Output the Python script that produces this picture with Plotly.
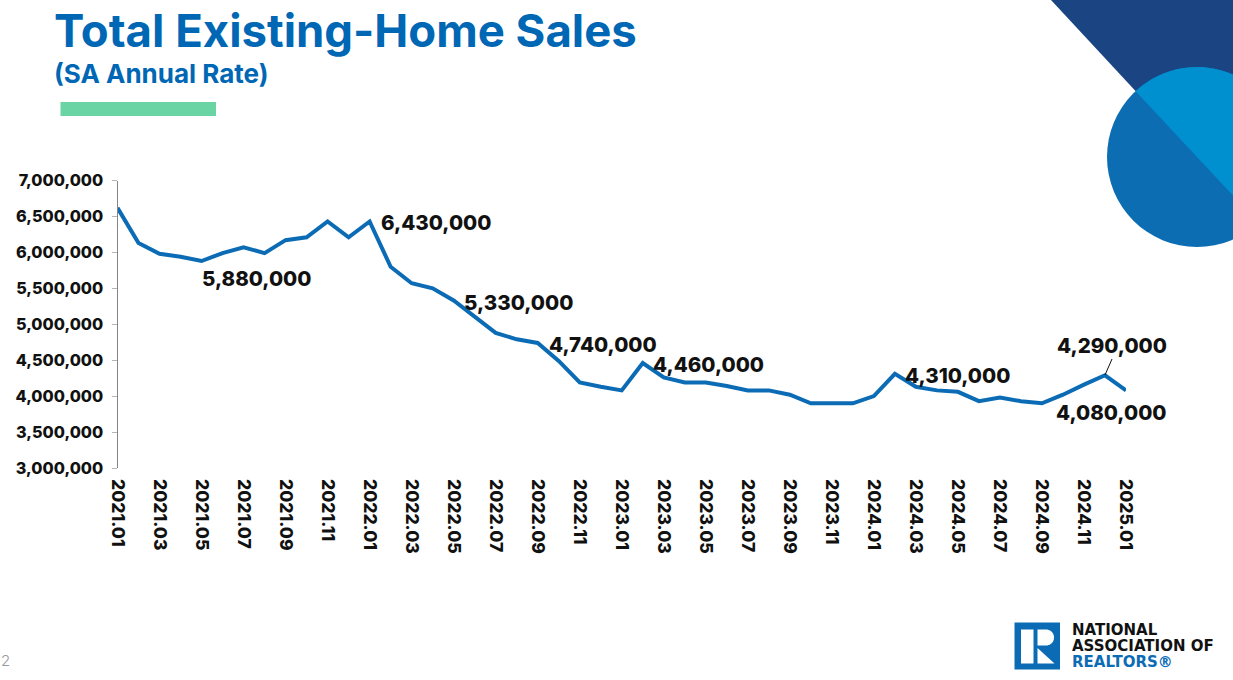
import math
import plotly.graph_objects as go

W, H = 1233, 680

# monthly, 2021.01 - 2025.01
months = [
    "2021.01", "2021.02", "2021.03", "2021.04", "2021.05", "2021.06", "2021.07", "2021.08", "2021.09", "2021.10", "2021.11", "2021.12",
    "2022.01", "2022.02", "2022.03", "2022.04", "2022.05", "2022.06", "2022.07", "2022.08", "2022.09", "2022.10", "2022.11", "2022.12",
    "2023.01", "2023.02", "2023.03", "2023.04", "2023.05", "2023.06", "2023.07", "2023.08", "2023.09", "2023.10", "2023.11", "2023.12",
    "2024.01", "2024.02", "2024.03", "2024.04", "2024.05", "2024.06", "2024.07", "2024.08", "2024.09", "2024.10", "2024.11", "2024.12",
    "2025.01",
]
sales = [
    6620000, 6130000, 5980000, 5940000, 5880000, 5990000, 6070000, 5990000, 6170000, 6210000, 6430000, 6210000,
    6430000, 5800000, 5570000, 5500000, 5330000, 5110000, 4880000, 4790000, 4740000, 4490000, 4190000, 4130000,
    4080000, 4460000, 4260000, 4190000, 4190000, 4140000, 4080000, 4080000, 4020000, 3900000, 3900000, 3900000,
    4000000, 4310000, 4130000, 4080000, 4060000, 3930000, 3980000, 3930000, 3900000, 4020000, 4160000, 4290000,
    4080000,
]
x_ticks = months[::2]
y_ticks = [3000000, 3500000, 4000000, 4500000, 5000000, 5500000, 6000000, 6500000, 7000000]

# months that get a callout, and where the text sits relative to the point
label_months = ["2021.05", "2022.01", "2022.05", "2022.09", "2023.02", "2024.02", "2024.12", "2025.01"]
label_dx = [-2, 9, 8, 9, 8, 8, -50, -72]
label_dy = [-17, -1, -2, -2, -1, -2, 30, -22]

BLUE = "#0B6CB5"
FONT = "Inter"


def px(x, y):
    # pixel position on the slide -> paper coordinates
    return x / W, 1 - y / H


def poly(points, color):
    # closed svg path from pixel points
    coords = [px(*p) for p in points]
    d = "M " + " L ".join(f"{a:.5f},{b:.5f}" for a, b in coords) + " Z"
    return dict(type="path", xref="paper", yref="paper", path=d, fillcolor=color, line_width=0, layer="below")


def box(x0, y0, x1, y1, color, kind="rect"):
    a, b = px(x0, y0)
    c, d = px(x1, y1)
    return dict(type=kind, xref="paper", yref="paper", x0=a, y0=b, x1=c, y1=d, fillcolor=color, line_width=0, layer="below")


def arc(cx, cy, r, start, end, n=60):
    # points along a circle, angles in degrees
    return [(cx + r * math.cos(math.radians(start + (end - start) * i / n)),
             cy + r * math.sin(math.radians(start + (end - start) * i / n))) for i in range(n + 1)]


def slide_text(x, y, text, size, color, weight=700, family=FONT):
    a, b = px(x, y)
    return dict(x=a, y=b, xref="paper", yref="paper", text=text, showarrow=False, xanchor="left", yanchor="middle",
                font=dict(family=family, size=size, color=color, weight=weight))


fig = go.Figure()
fig.add_trace(go.Scatter(x=months, y=sales, mode="lines", line=dict(color=BLUE, width=4), hoverinfo="skip", showlegend=False))

# corner art: triangle + circle split along its diameter
cx, cy, r = 1197, 157, 90

shapes = [
    poly([(1051, 0), (1233, 0), (1233, 196)], "#1B4482"),
    box(cx - r, cy - r, cx + r, cy + r, "#0D6DB2", "circle"),
    poly(arc(cx, cy, r, -133, 47), "#0090D0"),
    box(60.5, 102, 216, 116, "#6BD4A4"),
    # logo block
    box(1014.5, 622.5, 1060, 669.5, "#0B6CB5"),
    box(1021, 629.5, 1033.5, 663.5, "white"),
    poly([(1037.5, 629.5)] + arc(1046, 637.5, 8, -90, 90, 20) + [(1037.5, 645.5)], "white"),
    poly([(1037.5, 648), (1054.5, 663.5), (1037.5, 663.5)], "white"),
]
# leader line for the 4,290,000 callout
a, b = px(1105, 375)
c, d = px(1112, 359)
shapes.append(dict(type="line", xref="paper", yref="paper", x0=a, y0=b, x1=c, y1=d, line=dict(color="#111111", width=1)))

annotations = [
    slide_text(52, 31, "Total Existing-Home Sales", 45.5, "#0067B5"),
    slide_text(52, 73.5, "(SA Annual Rate)", 26, "#0067B5"),
    slide_text(-1, 660, "2", 15, "#999999", weight=300),
    slide_text(1070, 630, "NATIONAL", 15, "#111111", family="DejaVu Sans"),
    slide_text(1070, 646, "ASSOCIATION OF", 15, "#111111", family="DejaVu Sans"),
    slide_text(1070, 662, "REALTORS®", 15, "#0B6CB5", family="DejaVu Sans"),
]
for m, dx, dy in zip(label_months, label_dx, label_dy):
    i = months.index(m)
    annotations.append(dict(x=i, y=sales[i], xref="x", yref="y", text=f"{sales[i]:,}", showarrow=False, xanchor="left", yanchor="middle",
                            xshift=dx, yshift=dy, font=dict(family=FONT, size=20.5, color="#111111", weight=800)))

fig.update_layout(
    width=W, height=H, margin=dict(l=0, r=0, t=0, b=0, autoexpand=False),
    paper_bgcolor="white", plot_bgcolor="white",
    shapes=shapes, annotations=annotations,
    xaxis=dict(
        domain=[117.5 / W, 1126 / W], type="category", categoryorder="array", categoryarray=months,
        range=[0, 48], tickmode="array", tickvals=x_ticks, ticktext=x_ticks, tickangle=90,
        showgrid=False, showline=False, zeroline=False, ticks="", ticklabelstandoff=10,
        tickfont=dict(family=FONT, size=17.5, color="#111111", weight=800),
    ),
    yaxis=dict(
        domain=[1 - 468 / H, 1 - 180.5 / H], range=[3000000, 7000000], tickmode="array", tickvals=y_ticks,
        tickformat=",d", showgrid=False, zeroline=False, showline=True, linecolor="#868686", linewidth=1,
        ticks="outside", ticklen=5, tickcolor="#B5B5B5", tickwidth=1, ticklabelstandoff=5,
        tickfont=dict(family=FONT, size=16.2, color="#111111", weight=800),
    ),
)

fig.write_html("out.html", config={"displayModeBar": False}, post_script="document.body.style.margin='0';")
